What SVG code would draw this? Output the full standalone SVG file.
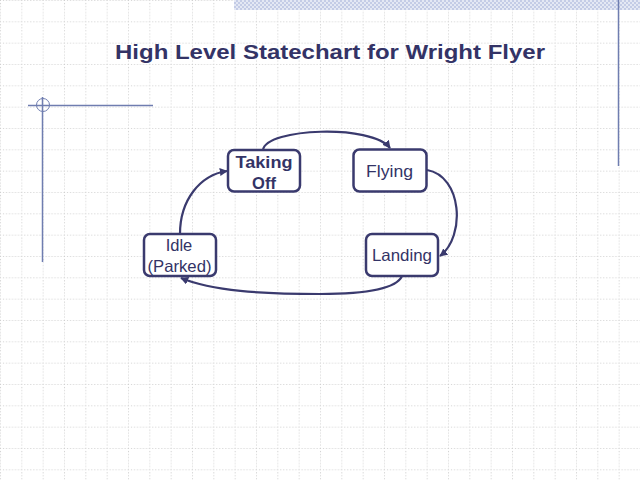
<svg xmlns="http://www.w3.org/2000/svg" width="640" height="480" viewBox="0 0 640 480">
<style>
.node rect{fill:#ffffff;stroke:#3a3a6e;stroke-width:2.5}
.node text{font-family:"Liberation Sans",Arial,sans-serif;font-size:16.5px;fill:#333366}
.node text.b{font-weight:bold}
.conn path{fill:none;stroke:#3a3a6e;stroke-width:2.2}
.deco{stroke:#6f7db0;stroke-width:1.5;fill:none}
</style>
<defs>
<pattern id="grid" width="21.3333" height="21.3333" patternUnits="userSpaceOnUse">
<line x1="0.5" y1="0" x2="0.5" y2="21.3333" stroke="#cfcfcf" stroke-width="1" stroke-dasharray="1,2"/>
<line x1="0" y1="0.5" x2="21.3333" y2="0.5" stroke="#cfcfcf" stroke-width="1" stroke-dasharray="1,2"/>
</pattern>
<pattern id="hatch" width="4" height="4" patternUnits="userSpaceOnUse">
<rect width="4" height="4" fill="#e4e8f4"/>
<rect width="2" height="2" fill="#c4cce6"/>
<rect x="2" y="2" width="2" height="2" fill="#c4cce6"/>
</pattern>
<marker id="arr" viewBox="0 0 10 10" refX="9" refY="5" markerWidth="8" markerHeight="8" markerUnits="userSpaceOnUse" orient="auto">
<path d="M0,0 L10,5 L0,10 z" fill="#3a3a6e"/>
</marker>
</defs>
<rect width="640" height="480" fill="#ffffff"/>
<rect width="640" height="480" fill="url(#grid)"/>
<rect x="234" y="0" width="406" height="10" fill="url(#hatch)"/>
<g id="decoration">
<line class="deco" x1="618.5" y1="0" x2="618.5" y2="166"/>
<line class="deco" x1="28" y1="105.5" x2="153" y2="105.5"/>
<line class="deco" x1="42.5" y1="97" x2="42.5" y2="262"/>
<circle cx="43" cy="105" r="6.5" stroke="#6f7db0" stroke-width="1" fill="none"/>
</g>
<text x="115" y="59" font-family="'Liberation Sans',Arial,sans-serif" font-size="21" font-weight="bold" fill="#333366" textLength="430" lengthAdjust="spacingAndGlyphs">High Level Statechart for Wright Flyer</text>
<g id="connectors" class="conn">
<path d="M263,150 C266,128 372,124 390,148" marker-end="url(#arr)"/>
<path d="M427,170 C462,176 466,236 440,256" marker-end="url(#arr)"/>
<path d="M402,276 C395,292 350,294 320,294 C262,294 212,291 181,278" marker-end="url(#arr)"/>
<path d="M180,234 C180,200 200,175 227,171" marker-end="url(#arr)"/>
</g>
<g id="node-taking-off" class="node">
<rect x="228" y="150" width="72" height="41.5" rx="6"/>
<text class="b" x="235.5" y="167.5" textLength="57" lengthAdjust="spacingAndGlyphs">Taking</text>
<text class="b" x="264" y="188.5" text-anchor="middle">Off</text>
</g>
<g id="node-flying" class="node">
<rect x="353.5" y="149.5" width="73" height="42" rx="6"/>
<text x="366" y="177" textLength="47" lengthAdjust="spacingAndGlyphs">Flying</text>
</g>
<g id="node-landing" class="node">
<rect x="366" y="234" width="72" height="42" rx="6"/>
<text x="372" y="261" textLength="60" lengthAdjust="spacingAndGlyphs">Landing</text>
</g>
<g id="node-idle" class="node">
<rect x="144" y="234" width="72" height="42" rx="6"/>
<text x="179" y="251" text-anchor="middle">Idle</text>
<text x="147.5" y="271.5" textLength="64" lengthAdjust="spacingAndGlyphs">(Parked)</text>
</g>
</svg>
